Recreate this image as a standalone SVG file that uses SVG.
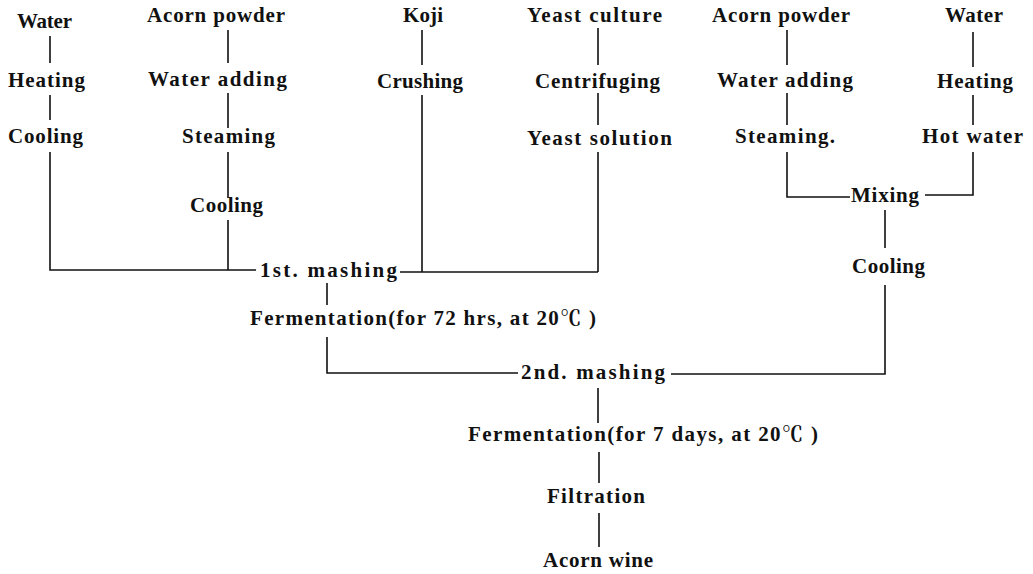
<svg xmlns="http://www.w3.org/2000/svg" width="1033" height="574" viewBox="0 0 1033 574">
<style>
.t{font-family:"Liberation Serif","Noto Serif CJK JP","Noto Sans CJK JP",serif;font-weight:bold;font-size:21px;fill:#111}
.c{stroke:#111;stroke-width:1.6;fill:none}
</style>
<rect width="1033" height="574" fill="#fff"/>
<g id="connectors" class="c">
<path d="M50 36V63M50 95V120M50 152V270H256"/>
<path d="M228 30V63M228 93V128M228 152V198M228 220V270"/>
<path d="M422 30V65M422 95V272M400 272H598"/>
<path d="M598 28V65M598 93V125M598 152V272"/>
<path d="M327 283V305M327 337V373H518"/>
<path d="M787 30V65M787 93V125M787 152V197H850"/>
<path d="M973 32V67M973 95V125M973 152V195H925"/>
<path d="M885 210V248M885 285V374H671"/>
<path d="M598 388V423M599 452V483M599 513V547"/>
</g>
<g id="water1"><text class="t" x="17" y="28" textLength="55" lengthAdjust="spacing">Water</text></g>
<g id="heating1"><text class="t" x="8" y="87" textLength="77" lengthAdjust="spacing">Heating</text></g>
<g id="cooling1"><text class="t" x="8" y="143" textLength="75" lengthAdjust="spacing">Cooling</text></g>
<g id="acorn1"><text class="t" x="147" y="22" textLength="138" lengthAdjust="spacing">Acorn powder</text></g>
<g id="wateradd1"><text class="t" x="148" y="86" textLength="139" lengthAdjust="spacing">Water adding</text></g>
<g id="steaming1"><text class="t" x="182" y="143" textLength="93" lengthAdjust="spacing">Steaming</text></g>
<g id="cooling2"><text class="t" x="190" y="212" textLength="73" lengthAdjust="spacing">Cooling</text></g>
<g id="koji"><text class="t" x="403" y="22" textLength="40" lengthAdjust="spacing">Koji</text></g>
<g id="crushing"><text class="t" x="377" y="88" textLength="86" lengthAdjust="spacing">Crushing</text></g>
<g id="yeastculture"><text class="t" x="527" y="22" textLength="135" lengthAdjust="spacing">Yeast culture</text></g>
<g id="centrifuging"><text class="t" x="535" y="88" textLength="125" lengthAdjust="spacing">Centrifuging</text></g>
<g id="yeastsolution"><text class="t" x="527" y="145" textLength="145" lengthAdjust="spacing">Yeast solution</text></g>
<g id="acorn2"><text class="t" x="712" y="22" textLength="138" lengthAdjust="spacing">Acorn powder</text></g>
<g id="wateradd2"><text class="t" x="717" y="87" textLength="136" lengthAdjust="spacing">Water adding</text></g>
<g id="steaming2"><text class="t" x="735" y="143" textLength="100" lengthAdjust="spacing">Steaming.</text></g>
<g id="water2"><text class="t" x="945" y="22" textLength="58" lengthAdjust="spacing">Water</text></g>
<g id="heating2"><text class="t" x="937" y="88" textLength="76" lengthAdjust="spacing">Heating</text></g>
<g id="hotwater"><text class="t" x="922" y="143" textLength="101" lengthAdjust="spacing">Hot water</text></g>
<g id="mixing"><text class="t" x="851" y="202" textLength="68" lengthAdjust="spacing">Mixing</text></g>
<g id="cooling3"><text class="t" x="852" y="273" textLength="73" lengthAdjust="spacing">Cooling</text></g>
<g id="mashing1"><text class="t" x="260" y="277" textLength="137" lengthAdjust="spacing">1st. mashing</text></g>
<g id="ferment1"><text class="t" x="250" y="325" textLength="346" lengthAdjust="spacing">Fermentation(for 72 hrs, at 20℃ )</text></g>
<g id="mashing2"><text class="t" x="521" y="379" textLength="144" lengthAdjust="spacing">2nd. mashing</text></g>
<g id="ferment2"><text class="t" x="468" y="441" textLength="350" lengthAdjust="spacing">Fermentation(for 7 days, at 20℃ )</text></g>
<g id="filtration"><text class="t" x="547" y="503" textLength="98" lengthAdjust="spacing">Filtration</text></g>
<g id="wine"><text class="t" x="543" y="567" textLength="110" lengthAdjust="spacing">Acorn wine</text></g>
</svg>
